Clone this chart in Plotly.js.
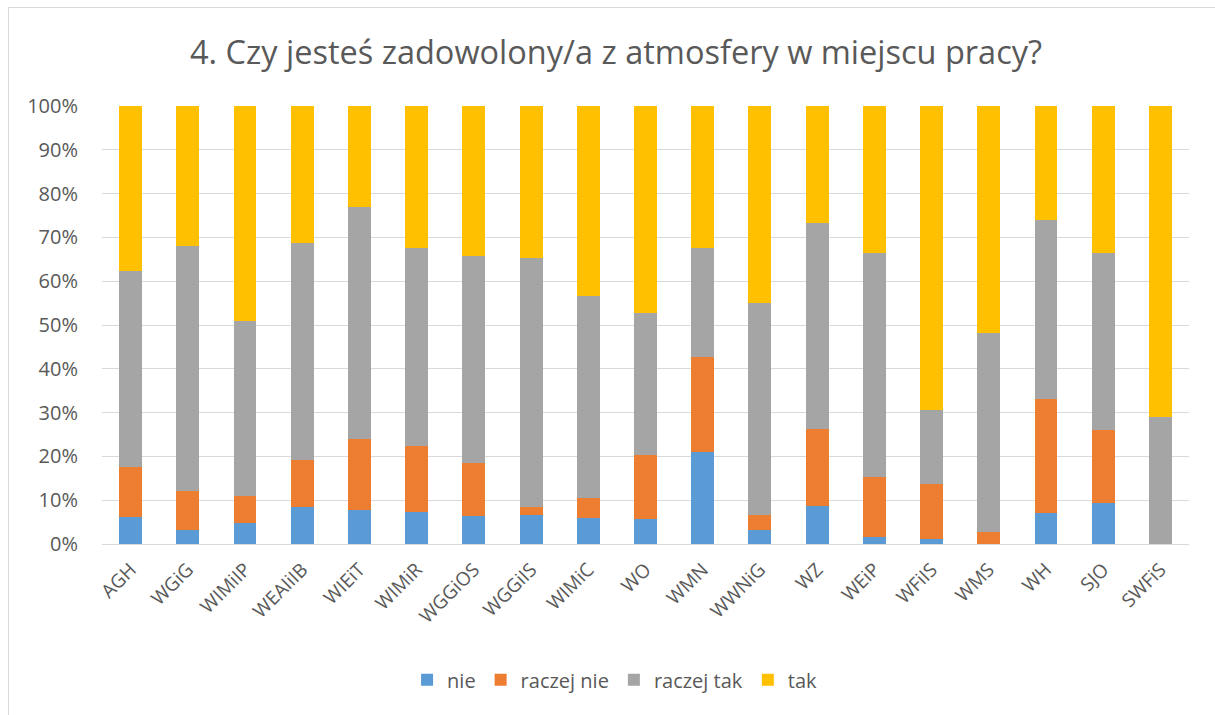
<!DOCTYPE html>
<html>
<head>
<meta charset="utf-8">
<script src="https://cdn.plot.ly/plotly-3.0.1.min.js"></script>
<style>
  html, body { margin: 0; padding: 0; background: #fff; }
  #wrap { position: relative; width: 1215px; height: 715px; overflow: hidden; }
  #frame { position: absolute; left: 8px; top: 7px; width: 1300px; height: 800px; border: 1px solid #d9d9d9; box-sizing: border-box; pointer-events: none; }
  #chart { position: absolute; left: 0; top: 0; width: 1215px; height: 715px; }
</style>
</head>
<body>
<div id="wrap">
  <div id="chart"></div>
  <div id="frame"></div>
</div>
<script>
const categories = ["AGH","WGiG","WIMiIP","WEAIiIB","WIEiT","WIMiR","WGGiOS","WGGiIS","WIMiC","WO","WMN","WWNiG","WZ","WEiP","WFiIS","WMS","WH","SJO","SWFiS"];
const nie        = [6.1, 3.1, 4.7, 8.4, 7.8, 7.3, 6.4, 6.6, 5.9, 5.6, 21.1, 3.2, 8.6, 1.7, 1.1, 0.0, 7.1, 9.3, 0.0];
const raczejNie  = [11.5, 9.1, 6.3, 10.8, 16.1, 15.0, 12.0, 1.8, 4.7, 14.7, 21.5, 3.4, 17.6, 13.7, 12.7, 2.8, 26.1, 16.7, 0.0];
const raczejTak  = [44.7, 55.9, 40.0, 49.5, 53.0, 45.3, 47.4, 56.9, 46.1, 32.5, 25.0, 48.4, 47.2, 51.1, 16.8, 45.4, 40.7, 40.5, 29.0];
const tak        = [37.7, 31.9, 49.0, 31.3, 23.1, 32.4, 34.2, 34.7, 43.3, 47.2, 32.4, 45.0, 26.6, 33.5, 69.4, 51.8, 26.1, 33.5, 71.0];
const seriesNames = ["nie", "raczej nie", "raczej tak", "tak"];
const seriesColors = ["#5b9bd5", "#ed7d31", "#a5a5a5", "#ffc000"];

const seriesData = [nie, raczejNie, raczejTak, tak];
const traces = seriesData.map((vals, i) => ({
  type: "bar",
  name: seriesNames[i],
  x: categories,
  y: vals.map(v => v / 100),
  marker: { color: seriesColors[i], line: { width: 0 } },
  hoverinfo: "x+y+name"
}));

const layout = {
  width: 1215,
  height: 715,
  barmode: "stack",
  bargap: 0.6,
  paper_bgcolor: "rgba(0,0,0,0)",
  plot_bgcolor: "rgba(0,0,0,0)",
  font: { family: "Open Sans, sans-serif", color: "#595959", size: 19 },
  title: {
    text: "4. Czy jesteś zadowolony/a z atmosfery w miejscu pracy?",
    font: { family: "Open Sans, sans-serif", size: 32.5, color: "#595959" },
    x: 0.507, xanchor: "center",
    y: 0.926, yanchor: "middle"
  },
  margin: { l: 102, r: 26, t: 106, b: 171 },
  xaxis: {
    type: "category",
    tickangle: -45,
    tickfont: { size: 19, color: "#595959" },
    showline: true,
    linecolor: "#d9d9d9",
    linewidth: 1,
    ticks: "",
    ticklabelstandoff: 6,
    showgrid: false
  },
  yaxis: {
    range: [0, 1],
    dtick: 0.1,
    tickformat: ".0%",
    tickfont: { size: 20, color: "#595959" },
    showgrid: true,
    gridcolor: "#d9d9d9",
    gridwidth: 1,
    zeroline: false,
    ticks: "",
    ticklen: 0,
    ticklabelstandoff: 23,
    automargin: false
  },
  legend: {
    orientation: "h",
    x: 0.472, xanchor: "center",
    y: -0.31, yanchor: "middle",
    font: { size: 20, color: "#595959" },
    traceorder: "normal",
    itemwidth: 30
  },
  showlegend: true
};

Plotly.newPlot("chart", traces, layout, { displayModeBar: false, staticPlot: true });
</script>
</body>
</html>
